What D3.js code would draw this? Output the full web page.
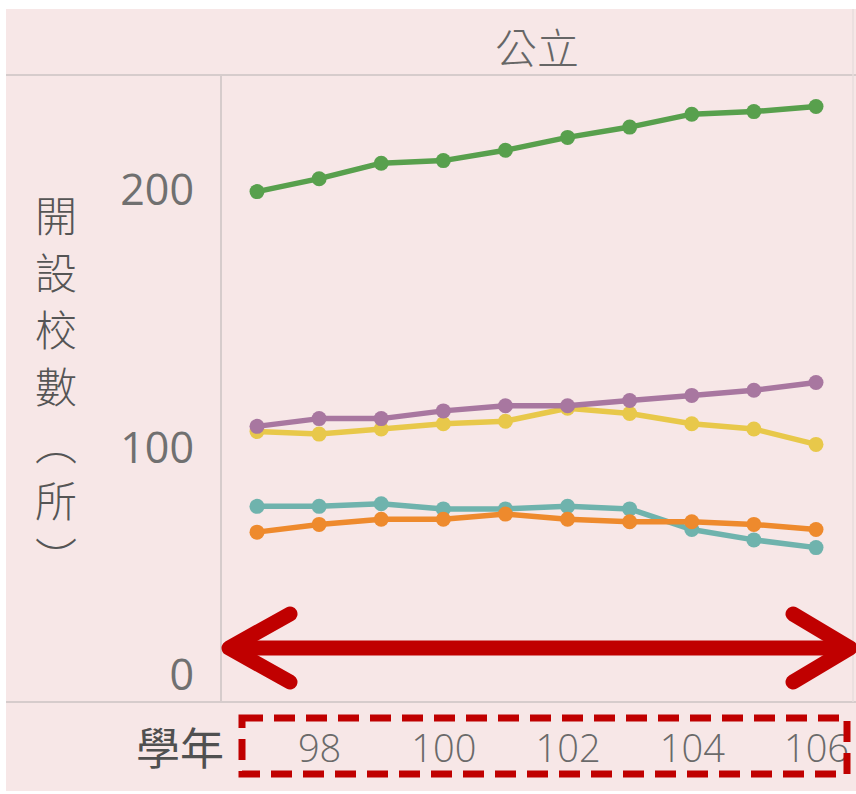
<!DOCTYPE html>
<html><head><meta charset="utf-8">
<script src="https://cdn.jsdelivr.net/npm/d3@7"></script>
<style>
html,body{margin:0;padding:0;background:#fff;}
svg{display:block;}
</style></head>
<body>
<script>
const years = [97, 98, 99, 100, 101, 102, 103, 104, 105, 106];
const xTickLabels = [98, 100, 102, 104, 106];
const yTickLabels = [0, 100, 200];
const seriesNames = ["yellow", "purple", "teal", "orange", "green"];
const seriesColors = ["#e8c84a", "#a877a0", "#6fb3ad", "#ee8a2d", "#58a04d"];
const yellowValues = [106, 105, 107, 109, 110, 115, 113, 109, 107, 101];
const purpleValues = [108, 111, 111, 114, 116, 116, 118, 120, 122, 125];
const tealValues   = [77, 77, 78, 76, 76, 77, 76, 68, 64, 61];
const orangeValues = [67, 70, 72, 72, 74, 72, 71, 71, 70, 68];
const greenValues  = [199, 204, 210, 211, 215, 220, 224, 229, 230, 232];
const seriesValues = [yellowValues, purpleValues, tealValues, orangeValues, greenValues];
const titleText = "公立";
const yTitle = "開設校數（所）";
const xTitle = "學年";

const W = 856, H = 794;
const svg = d3.select("body").append("svg").attr("width", W).attr("height", H);
const bg = "#f7e7e7", gridC = "#d6cccc";

svg.append("rect").attr("x", 6).attr("y", 9).attr("width", 850).attr("height", 782).attr("fill", bg);

const paneL = 221, paneR = 853, paneT = 75, paneB = 702;

svg.append("line").attr("x1", 6).attr("x2", 856).attr("y1", paneT).attr("y2", paneT).attr("stroke", gridC).attr("stroke-width", 2);
svg.append("line").attr("x1", 6).attr("x2", 856).attr("y1", paneB).attr("y2", paneB).attr("stroke", gridC).attr("stroke-width", 2);
svg.append("line").attr("x1", paneL).attr("x2", paneL).attr("y1", paneT).attr("y2", paneB).attr("stroke", gridC).attr("stroke-width", 2);
svg.append("line").attr("x1", paneR).attr("x2", paneR).attr("y1", 9).attr("y2", paneB).attr("stroke", "#e8dcdc").attr("stroke-width", 1.5);

const x = d3.scaleLinear().domain([97, 106]).range([257, 816]);
const y = d3.scaleLinear().domain([0, 200]).range([705, 189]);

svg.append("text").attr("x", (paneL + paneR) / 2).attr("y", 45)
  .attr("text-anchor", "middle").attr("dominant-baseline", "central")
  .attr("font-family", "'Noto Sans CJK TC', sans-serif").attr("font-size", 42)
  .attr("font-weight", 300)
  .attr("fill", "#666").text(titleText);

const yAxis = d3.axisLeft(y).tickValues(yTickLabels).tickSize(0).tickPadding(0).tickFormat(d3.format("d"));
const yg = svg.append("g").attr("transform", "translate(194,0)").call(yAxis);
yg.select(".domain").remove();
yg.selectAll("text").attr("font-family", "'Open Sans', sans-serif").attr("font-size", 43)
  .attr("fill", "#707070").attr("dy", "0.36em").attr("font-weight", 400);
yg.selectAll(".tick").filter(d => d === 0).select("text").attr("dy", "-0.36em");

const yt = svg.append("text").attr("font-family", "'Noto Sans CJK TC', sans-serif")
  .attr("font-size", 42).attr("fill", "#555").attr("text-anchor", "middle").attr("font-weight", 300);
Array.from(yTitle).forEach((ch, i) => {
  const vch = ch === "（" ? "︵" : ch === "）" ? "︶" : ch;
  yt.append("tspan").attr("x", 56).attr("y", 232 + i * 57).text(vch);
});

const xAxis = d3.axisBottom(x).tickValues(xTickLabels).tickSize(0).tickPadding(0).tickFormat(d3.format("d"));
const xg = svg.append("g").attr("transform", "translate(0,748)").call(xAxis);
xg.select(".domain").remove();
xg.selectAll("text").attr("font-family", "'Open Sans', sans-serif").attr("font-size", 38)
  .attr("fill", "#6a6a6a").attr("dy", "0.36em").attr("font-weight", 300);

svg.append("text").attr("x", 224).attr("y", 746).attr("text-anchor", "end")
  .attr("dominant-baseline", "central")
  .attr("font-family", "'Noto Sans CJK TC', sans-serif").attr("font-size", 44)
  .attr("fill", "#505050").text(xTitle);

const line = d3.line().x((d, i) => x(years[i])).y(d => y(d));
seriesValues.forEach((vals, k) => {
  const g = svg.append("g").attr("class", "series-" + seriesNames[k]);
  g.append("path").datum(vals).attr("d", line).attr("fill", "none")
    .attr("stroke", seriesColors[k]).attr("stroke-width", 5.5).attr("stroke-linejoin", "round");
  g.selectAll("circle").data(vals).join("circle")
    .attr("cx", (d, i) => x(years[i])).attr("cy", d => y(d)).attr("r", 7.5)
    .attr("fill", seriesColors[k]);
});

const red = "#c00000";
const ay = 648;
const ag = svg.append("g").attr("stroke", red).attr("stroke-width", 15).attr("stroke-linecap", "round")
  .attr("stroke-linejoin", "round").attr("fill", "none");
ag.append("line").attr("x1", 234).attr("x2", 846).attr("y1", ay).attr("y2", ay);
ag.append("polyline").attr("points", `290,614 229,${ay} 290,682`);
ag.append("polyline").attr("points", `793,614 850,${ay} 793,682`);

svg.append("rect").attr("x", 242).attr("y", 718).attr("width", 605).attr("height", 56)
  .attr("fill", "none").attr("stroke", red).attr("stroke-width", 7)
  .attr("stroke-dasharray", "21,11");
</script>
</body></html>
